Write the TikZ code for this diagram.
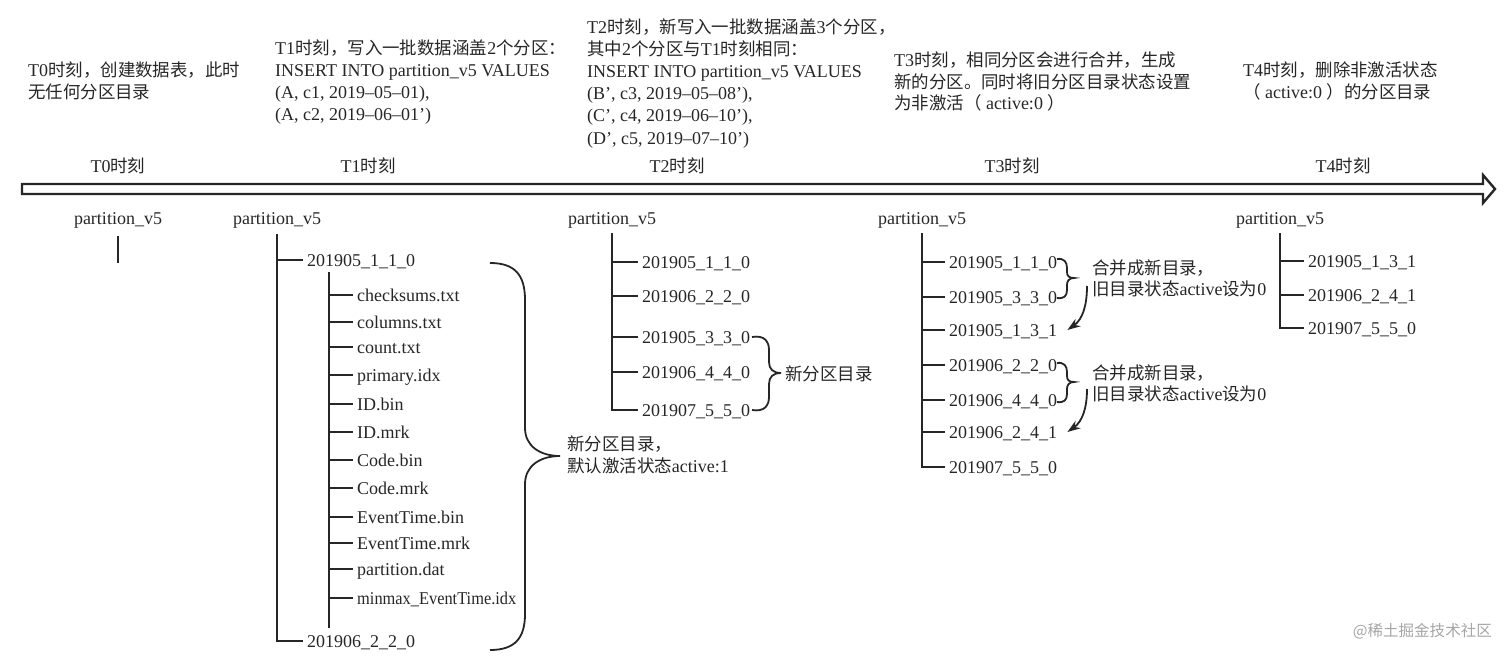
\documentclass[tikz,border=0pt]{standalone}
\usepackage{fontspec}
\usepackage{graphicx}
\setmainfont{Liberation Serif}
\newfontfamily\cjkfont[Scale=0.97]{Noto Sans CJK SC}
\newcommand\zh[1]{{\cjkfont #1}}
\usetikzlibrary{arrows.meta}
\definecolor{ink}{RGB}{38,38,38}
\definecolor{wm}{RGB}{165,165,165}
\begin{document}
\begin{tikzpicture}[x=1pt,y=-1pt,
  every node/.style={font=\fontsize{18}{22}\selectfont, text=ink},
  txt/.style={anchor=base west, inner sep=0pt},
  lbl/.style={anchor=base, inner sep=0pt},
  root/.style={anchor=base, inner sep=0pt, text depth=0pt},
  leaf/.style={anchor=west, inner xsep=4pt, inner ysep=0pt, text height=12pt, text depth=0pt},
  tree/.style={draw=ink, line width=2pt},
  brc/.style={draw=ink, line width=1.8pt},
  arr/.style={draw=ink, line width=1.8pt, -{Stealth[length=13pt,width=9pt]}},
  timeline/.style={draw=ink, line width=2.4pt, fill=white, line join=miter}]
\useasboundingbox (0,0) rectangle (1512,658);

% ---- top descriptions ----
\node[txt] (d0a) at (28,77) {T0\zh{时刻，创建数据表，此时}};
\node[txt] (d0b) at (28,99) {\zh{无任何分区目录}};

\node[txt] (d1a) at (275,55) {T1\zh{时刻，写入一批数据涵盖}2\zh{个分区：}};
\node[txt] (d1b) at (275,77) {INSERT INTO partition\_v5 VALUES};
\node[txt] (d1c) at (275,99) {(A, c1, 2019–05–01),};
\node[txt] (d1d) at (275,121) {(A, c2, 2019–06–01’)};

\node[txt] (d2a) at (587,34) {T2\zh{时刻，新写入一批数据涵盖}3\zh{个分区，}};
\node[txt] (d2b) at (587,56) {\zh{其中}2\zh{个分区与}T1\zh{时刻相同：}};
\node[txt] (d2c) at (587,78) {INSERT INTO partition\_v5 VALUES};
\node[txt] (d2d) at (587,100) {(B’, c3, 2019–05–08’),};
\node[txt] (d2e) at (587,122) {(C’, c4, 2019–06–10’),};
\node[txt] (d2f) at (587,144) {(D’, c5, 2019–07–10’)};

\node[txt] (d3a) at (894,67) {T3\zh{时刻，相同分区会进行合并，生成}};
\node[txt] (d3b) at (894,89) {\zh{新的分区。同时将旧分区目录状态设置}};
\node[txt] (d3c) at (894,110) {\zh{为非激活（} active:0 \zh{）}};

\node[txt] (d4a) at (1243,77) {T4\zh{时刻，删除非激活状态}};
\node[txt] (d4b) at (1243,99) {\zh{（} active:0 \zh{）的分区目录}};

% ---- timeline ----
\node[lbl] (l0) at (118,172) {T0\zh{时刻}};
\node[lbl] (l1) at (368,172) {T1\zh{时刻}};
\node[lbl] (l2) at (677,172) {T2\zh{时刻}};
\node[lbl] (l3) at (1012,172) {T3\zh{时刻}};
\node[lbl] (l4) at (1343,172) {T4\zh{时刻}};
\draw[timeline] (22,184) -- (1483,184) -- (1483,175) -- (1495,189) -- (1483,203)
  -- (1483,194) -- (22,194) -- cycle;

% ---- T0 tree ----
\node[root] (r0) at (118,224) {partition\_v5};
\coordinate (r0end) at (118,263);
\draw[tree] ([yshift=-12pt]r0.south) -- (r0end);

% ---- T1 tree ----
\node[root] (r1) at (277,224) {partition\_v5};
\node[leaf] (a1) at (303,260) {201905\_1\_1\_0};
\node[leaf] (b1) at (303,641) {201906\_2\_2\_0};
\draw[tree] ([yshift=-10pt]r1.south) |- (b1.west);
\draw[tree] (a1.west -| r1.south) -- (a1.west);
\coordinate (i1top) at (329,272);
\coordinate (i1bot) at (329,628);
\draw[tree] (i1top) -- (i1bot);
\foreach \n/\y/\t in {1/295/checksums.txt, 2/322/columns.txt, 3/347/count.txt,
  4/375/primary.idx, 5/404/ID.bin, 6/432/ID.mrk, 7/460/Code.bin, 8/488/Code.mrk,
  9/517/EventTime.bin, 10/543/EventTime.mrk, 11/569/partition.dat,
  12/598/\scalebox{0.91}[1]{minmax\_EventTime.idx}}{
  \node[leaf] (f\n) at (353,\y) {\t};
  \draw[tree] (f\n.west -| i1top) -- (f\n.west);
}
\draw[brc] (490,263) .. controls (515,263) and (525,275) .. (525,300) -- (525,428)
  .. controls (525,446) and (540,456) .. (560,456)
  .. controls (540,456) and (525,466) .. (525,484) -- (525,614)
  .. controls (525,638) and (515,650) .. (490,650);
\node[txt] (n1a) at (567,450) {\zh{新分区目录，}};
\node[txt] (n1b) at (567,472) {\zh{默认激活状态}active:1};

% ---- T2 tree ----
\node[root] (r2) at (612,224) {partition\_v5};
\foreach \n/\y/\t in {1/262/201905\_1\_1\_0, 2/296/201906\_2\_2\_0, 3/337/201905\_3\_3\_0,
  4/372/201906\_4\_4\_0, 5/410/201907\_5\_5\_0}{
  \node[leaf] (c2\n) at (638,\y) {\t};
}
\draw[tree] ([yshift=-9pt]r2.south) |- (c25.west);
\foreach \n in {1,2,3,4}{\draw[tree] (c2\n.west -| r2.south) -- (c2\n.west);}
\draw[brc] (752,337) .. controls (764,335) and (769,341) .. (769,350) -- (769,362)
  .. controls (769,369) and (773,373) .. (781,373)
  .. controls (773,373) and (769,377) .. (769,384) -- (769,397)
  .. controls (769,406) and (764,412) .. (752,410);
\node[txt] (n2) at (785,380) {\zh{新分区目录}};

% ---- T3 tree ----
\node[root] (r3) at (922,224) {partition\_v5};
\foreach \n/\y/\t in {1/262/201905\_1\_1\_0, 2/297/201905\_3\_3\_0, 3/330/201905\_1\_3\_1,
  4/365/201906\_2\_2\_0, 5/400/201906\_4\_4\_0, 6/432/201906\_2\_4\_1, 7/467/201907\_5\_5\_0}{
  \node[leaf] (c3\n) at (945,\y) {\t};
}
\draw[tree] ([yshift=-9pt]r3.south) |- (c37.west);
\foreach \n in {1,...,6}{\draw[tree] (c3\n.west -| r3.south) -- (c3\n.west);}
\draw[brc] (1057,259) .. controls (1064,258) and (1067,262) .. (1067,268) -- (1067,272)
  .. controls (1067,276) and (1069,278) .. (1074,278)
  .. controls (1069,278) and (1067,281) .. (1067,285) -- (1067,290)
  .. controls (1067,296) and (1064,299) .. (1057,298);
\draw[brc] (1057,363) .. controls (1064,362) and (1067,366) .. (1067,372) -- (1067,376)
  .. controls (1067,380) and (1069,382) .. (1074,382)
  .. controls (1069,382) and (1067,385) .. (1067,389) -- (1067,394)
  .. controls (1067,400) and (1064,403) .. (1057,402);
\node[txt] (m1a) at (1092,274) {\zh{合并成新目录，}};
\node[txt] (m1b) at (1092,295) {\zh{旧目录状态}active\zh{设为}0};
\node[txt] (m2a) at (1092,379) {\zh{合并成新目录，}};
\node[txt] (m2b) at (1092,400) {\zh{旧目录状态}active\zh{设为}0};
\coordinate (s1) at (1087,286);
\coordinate (s2) at (1087,389);
\draw[arr] (s1) to[out=-90,in=35] ([xshift=6pt]c33.east);
\draw[arr] (s2) to[out=-90,in=35] ([xshift=6pt]c36.east);

% ---- T4 tree ----
\node[root] (r4) at (1280,224) {partition\_v5};
\foreach \n/\y/\t in {1/261/201905\_1\_3\_1, 2/295/201906\_2\_4\_1, 3/328/201907\_5\_5\_0}{
  \node[leaf] (c4\n) at (1304,\y) {\t};
}
\draw[tree] ([yshift=-9pt]r4.south) |- (c43.west);
\foreach \n in {1,2}{\draw[tree] (c4\n.west -| r4.south) -- (c4\n.west);}

% ---- watermark ----
\node[anchor=base east, inner sep=0pt, text=wm, font=\fontsize{16}{18}\selectfont] (wmk) at (1492,636) {\zh{@稀土掘金技术社区}};
\end{tikzpicture}
\end{document}
